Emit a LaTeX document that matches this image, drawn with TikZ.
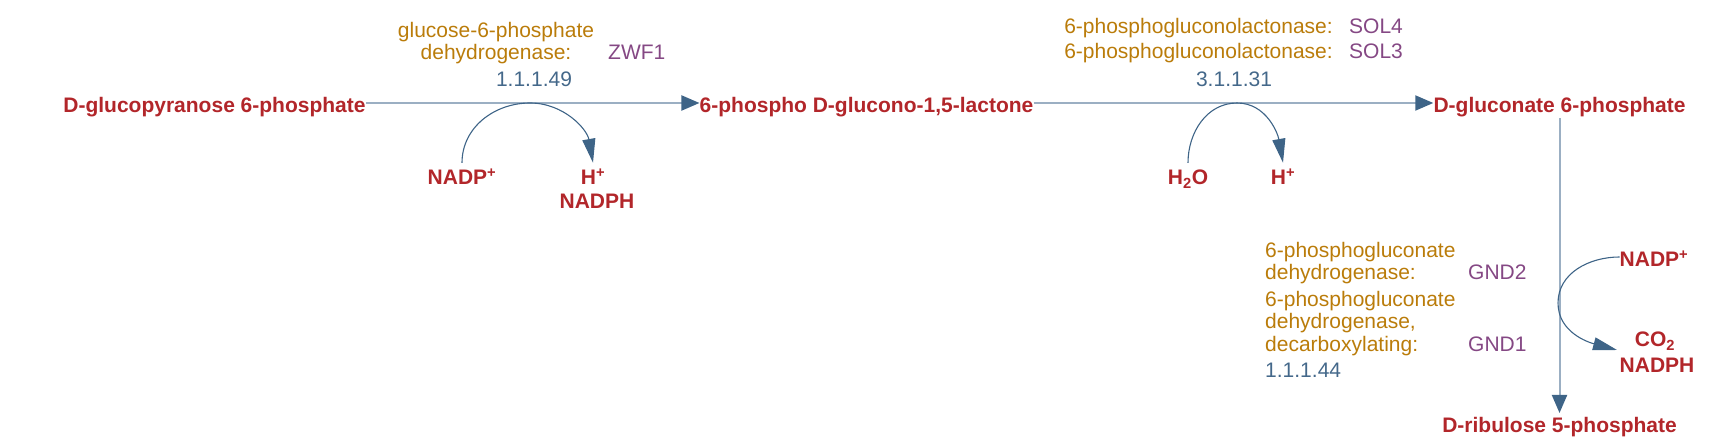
\documentclass[tikz,border=0pt]{standalone}
\usepackage{fontspec}
\setmainfont{Liberation Sans}
\usepackage{tikz}
\usetikzlibrary{arrows.meta}

\definecolor{cpdred}{RGB}{178,38,42}
\definecolor{enzorange}{RGB}{186,124,10}
\definecolor{genepurple}{RGB}{133,72,132}
\definecolor{ecblue}{RGB}{68,104,138}
\definecolor{linegray}{RGB}{155,175,195}
\definecolor{arrowblue}{RGB}{62,100,135}

\begin{document}
\begin{tikzpicture}[x=1pt, y=1pt,
    cpd/.style={font=\fontsize{21}{25}\selectfont\bfseries, text=cpdred,
        inner sep=0, text height=15pt, text depth=5pt, anchor=base},
    enz/.style={font=\fontsize{21}{25}\selectfont, text=enzorange, inner sep=0, anchor=base},
    gene/.style={font=\fontsize{21}{25}\selectfont, text=genepurple, inner sep=0, anchor=base west},
    ec/.style={font=\fontsize{21}{25}\selectfont, text=ecblue, inner sep=0, anchor=base},
    mainline/.style={draw=linegray, line width=2pt,
        -{Triangle[length=18pt, width=15pt, color=arrowblue]}},
    sideline/.style={draw=arrowblue, line width=1.1pt,
        -{Triangle[length=24pt, width=13pt]}}]
    \useasboundingbox (0,0) rectangle (1726,446);

    % compounds
    \node[cpd] (g6p) at (214.5,333) {D-glucopyranose 6-phosphate};
    \node[cpd] (lac) at (866.5,333) {6-phospho D-glucono-1,5-lactone};
    \node[cpd] (gcn) at (1559.5,333) {D-gluconate 6-phosphate};
    \node[cpd] (rib) at (1559.5,13) {D-ribulose 5-phosphate};

    % side compounds
    \node[cpd] (nadpa) at (462,261) {NADP\textsuperscript{+}};
    \node[cpd] (hpa) at (593,261) {H\textsuperscript{+}};
    \node[cpd] (nadpha) at (597,237) {NADPH};
    \node[cpd] (water) at (1188,261) {H\textsubscript{2}O};
    \node[cpd] (hpb) at (1283,261) {H\textsuperscript{+}};
    \node[cpd] (nadpc) at (1654,179) {NADP\textsuperscript{+}};
    \node[cpd] (co2) at (1655,99) {CO\textsubscript{2}};
    \node[cpd] (nadphc) at (1657,73) {NADPH};

    % enzymes
    \node[enz] (enza1) at (496,408) {glucose-6-phosphate};
    \node[enz] (enza2) at (496,386) {dehydrogenase:};
    \node[gene] (zwf) at (608,386) {ZWF1};
    \node[ec] (eca) at (534,359) {1.1.1.49};

    \foreach \y/\g [count=\i] in {412/SOL4, 387/SOL3} {
        \node[enz, anchor=base east] (enzb\i) at (1333,\y) {6-phosphogluconolactonase:};
        \node[gene] (sol\i) at (1349,\y) {\g};
    }
    \node[ec] (ecb) at (1234,359) {3.1.1.31};

    \foreach \y/\t [count=\i] in {188/6-phosphogluconate, 166/dehydrogenase:,
        139/6-phosphogluconate, 117/{dehydrogenase,}, 94/decarboxylating:} {
        \node[enz, anchor=base west] (enzc\i) at (1265,\y) {\t};
    }
    \node[gene] (gnd2) at (1468,166) {GND2};
    \node[gene] (gnd1) at (1468,94) {GND1};
    \node[ec, anchor=base west] (ecc) at (1265,68) {1.1.1.44};

    % reactions
    \draw[mainline] ([yshift=10pt]g6p.base east) -- ([yshift=10pt]lac.base west);
    \draw[mainline] ([yshift=10pt]lac.base east) -- ([yshift=10pt]gcn.base west);
    \draw[mainline] (gcn.south) -- ([yshift=20pt]rib.base);

    \coordinate (ma) at (530,343);
    \coordinate (mb) at (1237,343);
    \coordinate (mc) at (1558,143);
    \coordinate (tipc) at (1617,96);
    \draw[sideline] ([yshift=7pt]nadpa.north) to[out=90, in=180] (ma)
        to[out=0, in=100] ([yshift=7pt]hpa.north);
    \draw[sideline] ([yshift=7pt]water.north) to[out=90, in=180] (mb)
        to[out=0, in=100] ([yshift=7pt]hpb.north);
    \draw[sideline] ([yshift=5pt]nadpc.west) to[out=180, in=90] (mc)
        to[out=270, in=165] (tipc);
\end{tikzpicture}
\end{document}
